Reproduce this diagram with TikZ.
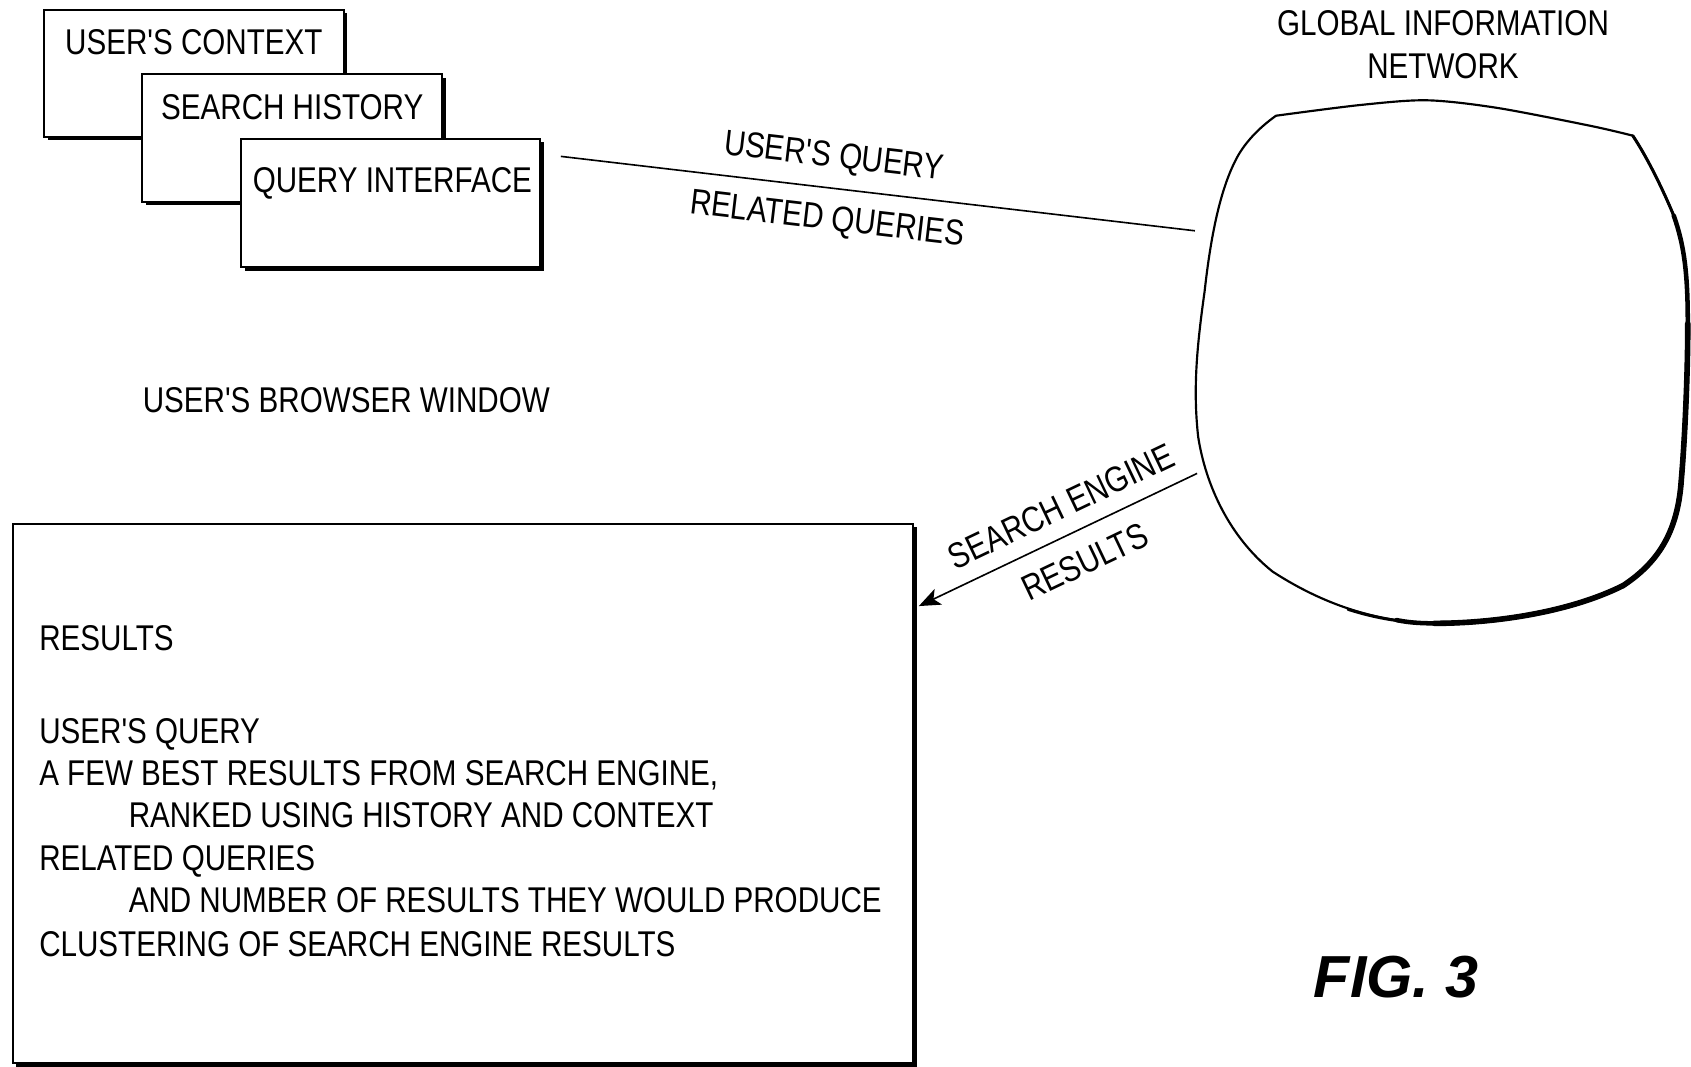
\documentclass[tikz,border=0pt]{standalone}
\usepackage{fontspec}
\setmainfont{Liberation Sans}
\newfontfamily\lab[FakeStretch=0.827]{Liberation Sans}
\usetikzlibrary{shadows,arrows.meta}
\tikzset{
  x=0.5pt,y=-0.5pt,
  panel/.style={draw=black,fill=white,line width=0.9pt,inner sep=0pt,anchor=north west,
    general shadow={fill=black,shadow xshift=1.6pt,shadow yshift=-1.6pt}},
  txt/.style={inner sep=0pt,anchor=base west,font=\lab\fontsize{16.6}{18}\selectfont,text=black},
  ctxt/.style={txt,anchor=center},
  conn/.style={draw=black,line width=0.75pt},
  netline/.style={draw=black,line width=1pt,line join=round,line cap=round}
}
\begin{document}
\begin{tikzpicture}
\useasboundingbox (0,0) rectangle (1568,988.5);
\fill[white] (0,0) rectangle (1568,988.5);
% stacked windows
\node[panel,minimum width=139pt,minimum height=59pt] (ctxbox) at (40,8) {};
\node[panel,minimum width=139pt,minimum height=59pt] (histbox) at (131,68) {};
\node[panel,minimum width=138.5pt,minimum height=59.5pt] (qibox) at (223,128) {};
\node[txt] (ctxt) at (60,50.5) {USER'S CONTEXT};
\node[txt] (htxt) at (149,110.5) {SEARCH HISTORY};
\node[txt] (qtxt) at (234,178.5) {QUERY INTERFACE};
\node[txt] (browser) at (132,382.5) {USER'S BROWSER WINDOW};
% results window
\node[panel,minimum width=417.5pt,minimum height=250pt] (resbox) at (11,485) {};
\node[txt] (r1) at (36,603.5) {RESULTS};
\node[txt] (r2) at (36,689.5) {USER'S QUERY};
\node[txt] (r3) at (36,728.5) {A FEW BEST RESULTS FROM SEARCH ENGINE,};
\node[txt] (r4) at (119,767.5) {RANKED USING HISTORY AND CONTEXT};
\node[txt] (r5) at (36,807.5) {RELATED QUERIES};
\node[txt] (r6) at (119,846.5) {AND NUMBER OF RESULTS THEY WOULD PRODUCE};
\node[txt] (r7) at (36,886.5) {CLUSTERING OF SEARCH ENGINE RESULTS};
% network outline
\draw[netline] plot[smooth,tension=0.5] coordinates {(1183.2,107.3) (1261,97.4) (1323,93) (1388,100) (1475.3,116.8) (1514,125.8)};
\draw[netline] (1514,125.8) .. controls (1530,150) and (1545,183) .. (1552,200) .. controls (1562,228) and (1565,255) .. (1565,300) .. controls (1565,350) and (1562,410) .. (1559,445) .. controls (1556,490) and (1540,520) .. (1505,543) .. controls (1455,568) and (1385,578) .. (1330,578) .. controls (1270,577) and (1220,556) .. (1180,530) .. controls (1140,498) and (1118,450) .. (1111,405) .. controls (1106,360) and (1110,320) .. (1117,270) .. controls (1122,225) and (1130,180) .. (1145,150) .. controls (1153,133) and (1168,118) .. (1183.2,107.3);
% heavier stretches of the same outline
\draw[draw=black,line width=1.4pt,line cap=round] (1514,125.8) .. controls (1530,150) and (1545,183) .. (1552,200) .. controls (1562,228) and (1565,255) .. (1565,300) .. controls (1565,350) and (1562,410) .. (1559,445) .. controls (1556,490) and (1540,520) .. (1505,543) .. controls (1455,568) and (1385,578) .. (1330,578) .. controls (1300,577.5) and (1275,573) .. (1250,565);
\draw[draw=black,line width=2.1pt,line cap=round] (1552,200) .. controls (1562,228) and (1565,255) .. (1565,300) .. controls (1565,350) and (1562,410) .. (1559,445) .. controls (1556,490) and (1540,520) .. (1505,543) .. controls (1455,568) and (1385,578) .. (1330,578) .. controls (1315,578) and (1305,577) .. (1295,575);
\draw[draw=black,line width=2.6pt,line cap=round] (1565,300) .. controls (1565,350) and (1562,410) .. (1559,445) .. controls (1556,490) and (1540,520) .. (1505,543) .. controls (1455,568) and (1385,578) .. (1330,578);
% connectors
\coordinate (qend) at (520,145);
\coordinate (nettop) at (1108,214);
\coordinate (netlow) at (1110,439);
\coordinate (resin) at (852,562);
\draw[conn] (qend) -- (nettop);
\draw[conn,-{Stealth[length=10pt,width=8pt,inset=2.5pt]}] (netlow) -- (resin);
% connector labels
\node[ctxt,rotate=-6.7] (lq) at (773,146.5) {USER'S QUERY};
\node[ctxt,rotate=-6.7] (lr) at (767,204.5) {RELATED QUERIES};
\node[ctxt,rotate=25.5] (ls) at (984,469.5) {SEARCH ENGINE};
\node[ctxt,rotate=25.5] (lt) at (1006,521) {RESULTS};
% network title
\node[txt,anchor=base] (g1) at (1338,32.5) {GLOBAL INFORMATION};
\node[txt,anchor=base] (g2) at (1338,72.5) {NETWORK};
% figure label
\node[inner sep=0pt,anchor=base west,font=\fontsize{27.5}{30}\selectfont\bfseries\itshape] (fig) at (1218,925) {FIG. 3};
\end{tikzpicture}
\end{document}
